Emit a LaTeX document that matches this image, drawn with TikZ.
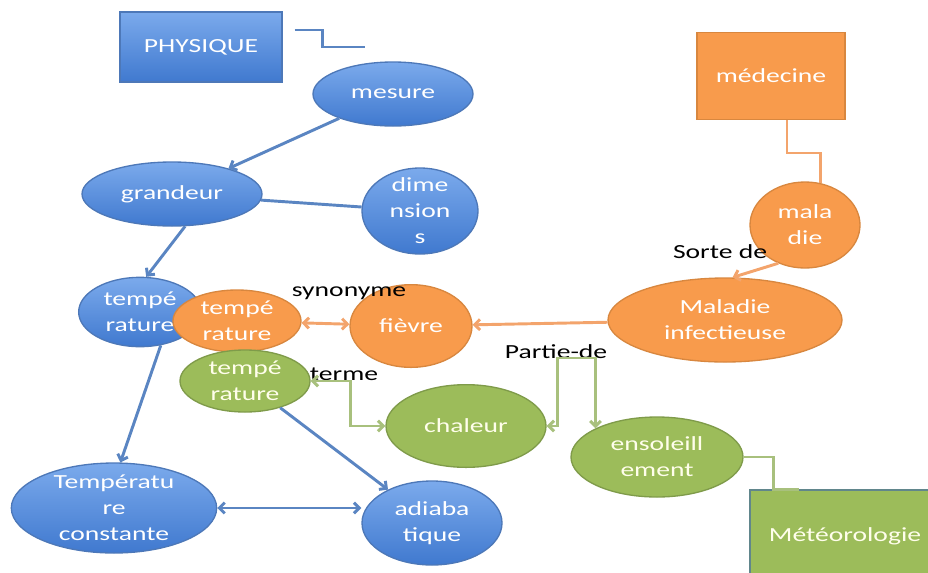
\documentclass[tikz,border=0pt]{standalone}
\usepackage{fontspec}
\setmainfont{Carlito}[FakeStretch=1.38]
\usetikzlibrary{arrows.meta,positioning,shapes.geometric}

\definecolor{physhi}{HTML}{7BAAEC}
\definecolor{physlo}{HTML}{4079CF}
\definecolor{physline}{HTML}{4D78B8}
\definecolor{physar}{HTML}{5A85C2}
\definecolor{medfill}{HTML}{F89B4C}
\definecolor{medline}{HTML}{D8873F}
\definecolor{medar}{HTML}{F3A46C}
\definecolor{metfill}{HTML}{9CBC5A}
\definecolor{metline}{HTML}{7F9B4A}
\definecolor{metar}{HTML}{A8C07D}

\begin{document}
\begin{tikzpicture}[
  x=0.75pt, y=-0.75pt,
  font=\fontsize{15}{19.5}\selectfont,
  bubble/.style={ellipse, inner xsep=0pt, inner ysep=-4pt, align=center,
                 text=white, line width=1pt},
  topic/.style={rectangle, inner sep=0pt, align=center, text=white,
                line width=1pt},
  physb/.style={bubble, draw=physline, top color=physhi, bottom color=physlo},
  physbox/.style={topic, draw=physline, top color=physhi, bottom color=physlo},
  medb/.style={bubble, draw=medline, fill=medfill},
  medbox/.style={topic, draw=medline, fill=medfill},
  metb/.style={bubble, draw=metline, fill=metfill, text=white!92!yellow},
  metbox/.style={topic, draw=metline!40!physline, fill=metfill, text=white!92!yellow},
  lbl/.style={text=black, inner sep=0pt},
  ln/.style={line width=2.2pt},
  ar/.style={ln, -{Straight Barb[length=4pt,width=8pt]}},
  arr/.style={ln, {Straight Barb[length=4pt,width=8pt]}-{Straight Barb[length=4pt,width=8pt]}},
]
\clip (0,0) rectangle (928,572);

\node[physbox, minimum width=121.5pt, minimum height=52.5pt] (physique) at (201,47) {PHYSIQUE};
\coordinate (physend) at (365,47);
\node[physb, minimum width=120pt, minimum height=48pt] (mesure) at (393,94) {mesure};
\node[physb, minimum width=135pt, minimum height=48pt] (grandeur) at (172,194) {grandeur};
\node[physb, minimum width=87pt, minimum height=64.5pt] (dimensions) at (420,211) {dime\\nsion\\s};
\node[physb, minimum width=92pt, minimum height=52pt] (tempphys) at (140,312) {tempé\\rature};
\node[physb, minimum width=154pt, minimum height=67.5pt] (tempconst) at (114,508) {Températu\\re\\constante};
\node[physb, minimum width=105pt, minimum height=63pt] (adiab) at (432,523) {adiaba\\tique};

\node[medbox, minimum width=111pt, minimum height=65pt] (medecine) at (771,76) {médecine};
\node[medb, minimum width=82.5pt, minimum height=64.5pt] (maladie) at (805,225) {mala\\die};
\node[medb, minimum width=175.5pt, minimum height=63pt] (infect) at (725,320) {Maladie\\infectieuse};
\node[medb, minimum width=91.5pt, minimum height=62pt] (fievre) at (411,326) {fièvre};
\node[medb, minimum width=96pt, minimum height=46.5pt] (tempmed) at (237,321) {tempé\\rature};

\node[metb, minimum width=97.5pt, minimum height=46.5pt] (tempmet) at (245,381) {tempé\\rature};
\node[metb, minimum width=120pt, minimum height=62pt] (chaleur) at (466,426) {chaleur};
\node[metb, minimum width=129pt, minimum height=60pt] (ensol) at (657,457) {ensoleill\\ement};
\node[metbox, minimum width=142.5pt, minimum height=69pt] (meteo) at (845,536) {Météorologie};

\node[lbl] (synonyme) at (349,293) {synonyme};
\node[lbl] (terme) at (344,374) {terme};
\node[lbl] (partie) at (556,352) {Partie-de};
\node[lbl] (sorte) at (720,252) {Sorte de};

\draw[ln, physar] ([shift={(12,-17)}]physique.east) -- ++(28,0) |- (physend);
\draw[ar, physar] (mesure) -- (grandeur);
\draw[ln, physar] (grandeur) -- (dimensions);
\draw[ar, physar] (grandeur.-68) -- (tempphys.80);
\draw[ar, physar] (tempphys.-58) -- (tempconst.82);
\draw[ar, physar] (tempmet) -- (adiab);
\draw[arr, physar] (tempconst.east) -- (tempconst.east -| adiab.west);

\draw[ln, medar] ([xshift=12pt]medecine.south) -- ++(0,33) -| (maladie.70);
\draw[ar, medar] (maladie.235) -- (infect.80);
\draw[ar, medar] (infect) -- (fievre);
\draw[arr, medar] (tempmed) -- (fievre);

\draw[arr, metar] (tempmet.east) -- ++(40,0) |- (chaleur.west);
\draw[arr, metar] (chaleur.east) -- ++(11,0) -- ++(0,-68) -| (ensol.155);
\draw[ln, metar] (ensol.east) -- ++(30,0) |- ([xshift=37.5pt]meteo.north west);

\end{tikzpicture}
\end{document}
